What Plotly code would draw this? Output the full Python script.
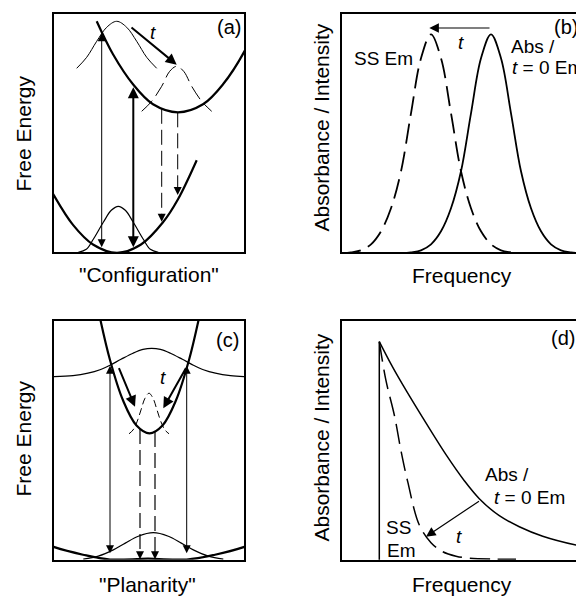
import plotly.graph_objects as go

W, H = 576, 596
FONT = "Liberation Sans, Arial, sans-serif"

# ---------------- Panel (a): "Configuration" free-energy curves ----------------
a_upper_x = [43.7, 60, 80, 100, 125, 150, 170, 192, 200]
a_upper_y = [232, 199, 169, 149, 141, 149, 169, 203, 221]
a_lower_x = [-5, 0, 20, 40, 64, 88, 110, 125, 143.7]
a_lower_y = [69, 59.5, 28.4, 8.8, 0.5, 8.8, 31, 54, 93]
a_pkt0_x = [23.7, 33.7, 43.7, 53.7, 63.7, 73.7, 83.7, 93.7, 103.7]
a_pkt0_y = [185, 196, 212, 226, 232, 226, 212, 196, 185]
a_pktss_x = [88.7, 98.7, 108.7, 116.7, 123.7, 130.7, 138.7, 148.7, 158.7]
a_pktss_y = [142, 152, 167, 182, 187, 182, 167, 152, 142]
a_gs_x = [25.3, 33.3, 40.3, 50.3, 58.3, 65.3, 72.3, 80.3, 90.3, 97.3, 105.3]
a_gs_y = [1, 4, 14, 31, 43, 47, 43, 31, 14, 4, 1]
a_abs_x = [48.7, 80.3]
a_abs_bottom = [4.5, 4.5]
a_abs_top = [220, 166]
a_abs_width = [1, 2]
a_em_x = [108.7, 124.7]
a_em_top = [144.5, 141]
a_em_bottom = [31.6, 58.3]
a_t_tail = [77, 227]
a_t_head = [123.7, 188.6]

# ---------------- Panel (b): spectra ----------------
b_abs_x = [60, 70, 80, 90, 100, 110, 120, 130, 140, 150, 160, 170, 180, 190, 200, 210, 220, 230, 240]
b_abs_y = [0, 1, 3, 9, 22, 45, 82, 140, 195, 219, 195, 140, 82, 45, 22, 9, 3, 1, 0]
b_em_x = [0, 10, 20, 30, 40, 50, 60, 70, 80, 90, 100, 110, 120, 130, 140, 150, 160, 170, 180]
b_em_y = [0, 1, 3, 9, 22, 45, 82, 140, 195, 219, 195, 140, 82, 45, 22, 9, 3, 1, 0]
b_t_tail = [150, 225.3]
b_t_head = [88.3, 225.3]

# ---------------- Panel (c): "Planarity" free-energy curves ----------------
c_par_x = [45.5, 57, 70, 83.5, 96.5, 109.5, 123, 136, 147.5]
c_par_y = [249.6, 200.7, 160.4, 135.3, 127.4, 135.3, 160.4, 200.7, 249.6]
c_bump_x = [0, 20, 35, 47, 57, 68, 80, 90, 98.7, 107.4, 117.4, 129.4, 140.4, 150.4, 162.4, 177.4, 192]
c_bump_y = [184, 185, 187.5, 191, 195.5, 201.4, 207.5, 211.3, 212.4, 211.3, 207.5, 201.4, 195.5, 191, 187.5, 185, 184]
c_pk_x = [76, 80, 84, 88, 92, 96, 100, 104, 108, 112, 116]
c_pk_y = [126.9, 130.7, 138.8, 150.8, 162.5, 167.5, 162.5, 150.8, 138.8, 130.7, 126.9]
c_gs_x = [30.3, 45.3, 60.3, 72.3, 85.3, 100.3, 115.3, 128.3, 140.3, 155.3, 170.3]
c_gs_y = [1.5, 4.6, 10.8, 17.6, 24.5, 28, 24.5, 17.6, 10.8, 4.6, 1.5]
c_low_x = [-5, 0, 30, 57, 95, 133.7, 162, 192, 197]
c_low_y = [16, 14, 6, 1.2, 2, 1.2, 6, 14, 16]
c_abs_x = [57, 133.7]
c_abs_bottom = [6, 6]
c_abs_top = [195, 195]
c_em_x = [87, 102]
c_em_top = [131.6, 128.8]
c_em_bottom = [1.5, 1.5]
c_t_tails = [[65.3, 194], [133.7, 194]]
c_t_heads = [[82, 154], [110.3, 152.4]]

# ---------------- Panel (d): spectra ----------------
d_edge_x = [38.3, 38.3]
d_edge_y = [0, 219]
d_abs_x = [38.3, 50.3, 61.7, 81.7, 105, 123.3, 138.3, 158.3, 178.3, 201.7, 235, 248]
d_abs_y = [219, 196, 176, 143, 106, 80, 62, 45, 34, 24.5, 15.7, 13.5]
d_ss_x = [38.3, 45, 53.3, 60, 66.7, 78.3, 90, 101.7, 115, 128.3, 155, 175]
d_ss_y = [219, 180, 145.7, 110, 79, 35.7, 18, 9, 4.5, 2.5, 1.6, 1.5]
d_t_tail = [139.5, 60.5]
d_t_head = [85, 24]


def px(x):
    return x / W


def py(y):
    return 1 - y / H


fig = go.Figure()


def line(x, y, ax, width=1, dash=None, shape="spline"):
    xa = "x" if ax == 1 else f"x{ax}"
    ya = "y" if ax == 1 else f"y{ax}"
    fig.add_trace(go.Scatter(
        x=x, y=y, xaxis=xa, yaxis=ya, mode="lines",
        line=dict(color="black", width=width, dash=dash, shape=shape, smoothing=1),
        showlegend=False, hoverinfo="skip"))


DASH = "15px,6px"
LONGDASH = "20px,8px"

# panel a
line(a_upper_x, a_upper_y, 1, 2.2)
line(a_lower_x, a_lower_y, 1, 2.2)
line(a_pkt0_x, a_pkt0_y, 1, 1)
line(a_pktss_x, a_pktss_y, 1, 1, DASH)
line(a_gs_x, a_gs_y, 1, 1.2)
for xv, t, b in zip(a_em_x, a_em_top, a_em_bottom):
    line([xv, xv], [t, b + 6], 1, 1, DASH, "linear")

# panel b
line(b_abs_x, b_abs_y, 2, 1.8)
line(b_em_x, b_em_y, 2, 1.8, LONGDASH)

# panel c
line(c_par_x, c_par_y, 3, 2.2)
line(c_bump_x, c_bump_y, 3, 1.2)
line(c_pk_x, c_pk_y, 3, 1, "7px,4px")
line(c_gs_x, c_gs_y, 3, 1.2)
line(c_low_x, c_low_y, 3, 2.2)
for xv, t, b in zip(c_em_x, c_em_top, c_em_bottom):
    line([xv, xv], [t, b + 6], 3, 1.2, DASH, "linear")

# panel d
line(d_edge_x, d_edge_y, 4, 1.5, None, "linear")
line(d_abs_x, d_abs_y, 4, 1.5)
line(d_ss_x, d_ss_y, 4, 1.5, LONGDASH)

ann = []


def arrow(ax, tail, head, width=1, both=False, size=1.6, head_style=2):
    xr = "x" if ax == 1 else f"x{ax}"
    yr = "y" if ax == 1 else f"y{ax}"
    ann.append(dict(
        x=head[0], y=head[1], ax=tail[0], ay=tail[1],
        xref=xr, yref=yr, axref=xr, ayref=yr, text="",
        showarrow=True, arrowhead=head_style, arrowsize=size, arrowwidth=width,
        arrowcolor="black", standoff=0, startstandoff=0,
        arrowside="end+start" if both else "end",
        startarrowhead=head_style, startarrowsize=size))


# panel a arrows
for xv, b, t, w in zip(a_abs_x, a_abs_bottom, a_abs_top, a_abs_width):
    arrow(1, [xv, b], [xv, t], w, both=True, size=1.6 if w == 1 else 1.1)
for xv, b in zip(a_em_x, a_em_bottom):
    arrow(1, [xv, b + 8], [xv, b], 1, size=1.6)
arrow(1, a_t_tail, a_t_head, 2, size=1.1)

# panel b arrow
arrow(2, b_t_tail, b_t_head, 1.2, size=1.6)

# panel c arrows
for xv, b, t in zip(c_abs_x, c_abs_bottom, c_abs_top):
    arrow(3, [xv, b], [xv, t], 1, both=True, size=1.6)
for xv, b in zip(c_em_x, c_em_bottom):
    arrow(3, [xv, b + 8], [xv, b], 1, size=1.6)
for tl, hd in zip(c_t_tails, c_t_heads):
    arrow(3, tl, hd, 2, size=1.1)

# panel d arrow
arrow(4, d_t_tail, d_t_head, 1.2, size=1.6)


def text(s, x, y, size=19, xanchor="center", angle=0):
    ann.append(dict(text=s, x=px(x), y=py(y), xref="paper", yref="paper",
                    showarrow=False, xanchor=xanchor, yanchor="middle",
                    textangle=angle, font=dict(family=FONT, size=size, color="black")))


T = "<i>t</i>"
# panel labels
text("(a)", 229, 27, 20)
text("(b)", 552, 27, 20, "left")
text("(c)", 227.5, 340, 20)
text("(d)", 549, 338, 20, "left")
# t labels
text(T, 153, 33)
text(T, 461, 43)
text(T, 163, 377)
text(T, 459, 536)
# spectrum labels
text("SS Em", 383.5, 58)
text("Abs /", 509, 46, 19, "left")
text(T + " = 0 Em", 510, 68, 19, "left")
text("Abs /", 483, 474, 19, "left")
text(T + " = 0 Em", 492, 497, 19, "left")
text("SS", 398, 527)
text("Em", 401, 550)
# axis titles
text("Free Energy", 22.5, 134, 21, angle=-90)
text("Free Energy", 22.5, 439, 21, angle=-90)
text("Absorbance / Intensity", 320.5, 128, 21, angle=-90)
text("Absorbance / Intensity", 320.5, 438, 21, angle=-90)
text("\"Configuration\"", 149, 274, 21)
text("Frequency", 462, 275, 21)
text("\"Planarity\"", 147.5, 584, 21)
text("Frequency", 462, 584, 21)


def axis(domain, rng, mirror):
    return dict(domain=domain, range=rng, showgrid=False, zeroline=False,
                showticklabels=False, ticks="", showline=True, linewidth=2,
                linecolor="black", mirror=mirror, fixedrange=True)


lay = dict(
    width=W, height=H, margin=dict(l=0, r=0, t=0, b=0),
    paper_bgcolor="white", plot_bgcolor="white", annotations=ann,
    # panel a
    xaxis=dict(axis([px(54), px(244)], [1, 191], True), anchor="y"),
    yaxis=dict(axis([py(252.3), py(13.5)], [1, 239.8], True), anchor="x"),
    # panel b
    xaxis2=dict(axis([px(342), 1.0], [1, 235], True), anchor="y2"),
    yaxis2=dict(axis([py(252.3), py(13.5)], [1, 239.8], False), anchor="x2"),
    # panel c
    xaxis3=dict(axis([px(54), px(244)], [1, 191], True), anchor="y3"),
    yaxis3=dict(axis([py(559.7), py(321)], [1, 239.7], True), anchor="x3"),
    # panel d
    xaxis4=dict(axis([px(342), 1.0], [1, 235], True), anchor="y4"),
    yaxis4=dict(axis([py(559.7), py(321)], [1, 239.7], False), anchor="x4"),
)
fig.update_layout(**lay)
fig.write_html("out.html")
